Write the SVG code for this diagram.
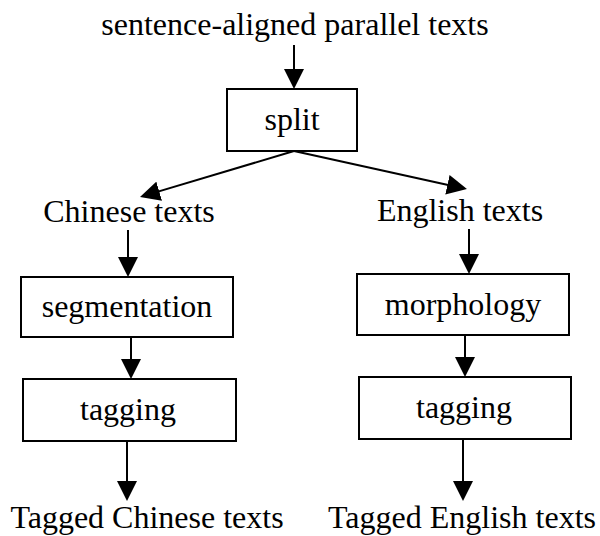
<svg xmlns="http://www.w3.org/2000/svg" width="600" height="536" viewBox="0 0 600 536">
<style>
  text { font-family: "Liberation Serif", "Times New Roman", serif; font-size: 32px; fill: #000; text-anchor: middle; }
  .box { fill: #fff; stroke: #000; stroke-width: 2; }
  .edge { fill: none; stroke: #000; stroke-width: 2; marker-end: url(#arrow); }
</style>
<defs>
  <marker id="arrow" viewBox="0 0 20 20" refX="10" refY="10" markerWidth="20" markerHeight="20" markerUnits="userSpaceOnUse" orient="auto">
    <path d="M0,0 L20,10 L0,20 z" fill="#000"/>
  </marker>
</defs>
<rect width="600" height="536" fill="#fff"/>
<g id="connectors">
  <line class="edge" x1="294" y1="45" x2="294" y2="79"/>
  <line class="edge" x1="294" y1="151" x2="149.6" y2="194.1"/>
  <line class="edge" x1="294" y1="151" x2="457.2" y2="186.9"/>
  <line class="edge" x1="128" y1="230" x2="128" y2="267"/>
  <line class="edge" x1="131" y1="337" x2="131" y2="369"/>
  <line class="edge" x1="127" y1="441" x2="127" y2="491"/>
  <line class="edge" x1="469" y1="229" x2="469" y2="264"/>
  <line class="edge" x1="465" y1="335" x2="465" y2="367"/>
  <line class="edge" x1="463" y1="439" x2="463" y2="491"/>
</g>
<g id="source"><text x="295" y="35">sentence-aligned parallel texts</text></g>
<g id="split"><rect class="box" x="227" y="89" width="130" height="62"/><text x="292" y="130">split</text></g>
<g id="chinese"><text x="129" y="222">Chinese texts</text></g>
<g id="english"><text x="460" y="221">English texts</text></g>
<g id="segmentation"><rect class="box" x="21" y="277" width="212" height="60"/><text x="127" y="317">segmentation</text></g>
<g id="morphology"><rect class="box" x="357" y="274" width="212" height="61"/><text x="463" y="315">morphology</text></g>
<g id="tagging-zh"><rect class="box" x="23" y="379" width="213" height="62"/><text x="128" y="420">tagging</text></g>
<g id="tagging-en"><rect class="box" x="359" y="377" width="212" height="62"/><text x="464" y="418">tagging</text></g>
<g id="tagged-zh"><text x="147" y="528">Tagged Chinese texts</text></g>
<g id="tagged-en"><text x="462" y="528">Tagged English texts</text></g>
</svg>
